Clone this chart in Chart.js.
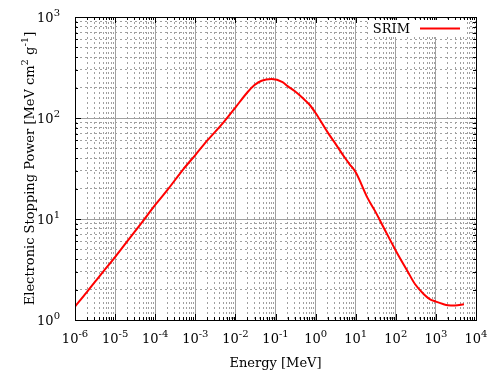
<!DOCTYPE html>
<html>
<head>
<meta charset="utf-8">
<script src="https://cdn.jsdelivr.net/npm/chart.js@4.4.1/dist/chart.umd.min.js"></script>
<style>
  html, body { margin: 0; padding: 0; background: #fff; }
  #wrap { width: 500px; height: 375px; }
</style>
</head>
<body>
<div id="wrap"><canvas id="chart-srim"></canvas></div>
<script>
// SRIM electronic stopping power
const energy = [1e-6, 2e-6, 5e-6, 1e-5, 2e-5, 5e-5, 1e-4, 2e-4, 5e-4, 1e-3, 2e-3, 5e-3,
                1e-2, 2e-2, 3e-2, 4.5e-2, 8e-2, 0.15, 0.2, 0.3, 0.5, 0.7, 1, 2, 3, 5, 7,
                10, 20, 30, 50, 100, 200, 300, 500, 700, 1000, 1500, 2000, 3000, 5000];
const stopping = [1.36, 1.9, 3.0, 4.2, 6.0, 9.6, 13.8, 19.3, 31, 43, 60, 90,
                  127, 180, 212, 234, 243, 227, 207, 185, 155, 136, 112, 72, 57, 42, 35,
                  29, 16, 12.1, 8.2, 4.86, 3.0, 2.27, 1.8, 1.61, 1.52, 1.44, 1.40, 1.39, 1.43];

const seriesLabel = 'SRIM';
const xDecades = [-6, -5, -4, -3, -2, -1, 0, 1, 2, 3, 4];
const yDecades = [0, 1, 2, 3];
const xTitle = 'Energy [MeV]';
// y title pieces: [text, isSuperscript]
const yTitle = [['Electronic Stopping Power [MeV cm', false], ['2', true], [' g', false], ['-1', true], [']', false]];

const FONT = '"DejaVu Serif", serif';
const GRID = '#a0a0a0';

function decadeTicks(exps) {
  let ticks = [];
  exps.forEach((e, i) => {
    ticks.push({ value: Math.pow(10, e), major: true, exp: e });
    if (i < exps.length - 1) {
      for (let m = 2; m <= 9; m++) ticks.push({ value: m * Math.pow(10, e), major: false });
    }
  });
  return ticks;
}

// draws pieces of text along a line, superscripts smaller and raised
function drawPieces(ctx, pieces, x, y) {
  let cx = x;
  pieces.forEach(([txt, sup]) => {
    ctx.font = (sup ? '10px ' : '13px ') + FONT;
    ctx.fillText(txt, cx, sup ? y - 6 : y);
    cx += ctx.measureText(txt).width;
  });
}

function piecesWidth(ctx, pieces) {
  let w = 0;
  pieces.forEach(([txt, sup]) => {
    ctx.font = (sup ? '10px ' : '13px ') + FONT;
    w += ctx.measureText(txt).width;
  });
  return w;
}

function powLabel(e) {
  return [['10', false], [String(e), true]];
}

const gnuplotFrame = {
  id: 'gnuplotFrame',
  afterDraw(chart) {
    const { ctx, chartArea: a, scales: { x, y } } = chart;
    ctx.save();
    ctx.fillStyle = '#000';
    ctx.textBaseline = 'alphabetic';
    ctx.textAlign = 'left';

    // tick marks on all four sides
    ctx.strokeStyle = '#000';
    ctx.lineWidth = 1;
    ctx.beginPath();
    x.ticks.forEach(t => {
      const px = Math.round(x.getPixelForValue(t.value)) + 0.5;
      const len = t.major ? 6 : 3;
      ctx.moveTo(px, a.bottom); ctx.lineTo(px, a.bottom - len);
      ctx.moveTo(px, a.top); ctx.lineTo(px, a.top + len);
    });
    y.ticks.forEach(t => {
      const py = Math.round(y.getPixelForValue(t.value)) + 0.5;
      const len = t.major ? 6 : 3;
      ctx.moveTo(a.left, py); ctx.lineTo(a.left + len, py);
      ctx.moveTo(a.right, py); ctx.lineTo(a.right - len, py);
    });
    ctx.stroke();

    // key
    ctx.fillStyle = '#fff';
    ctx.fillRect(370, a.top + 3, 97, 17);
    ctx.fillStyle = '#000';
    ctx.font = '13px ' + FONT;
    ctx.textAlign = 'right';
    ctx.fillText(seriesLabel, 410, a.top + 16);
    ctx.textAlign = 'left';
    ctx.strokeStyle = '#ff0000';
    ctx.lineWidth = 2;
    ctx.beginPath();
    ctx.moveTo(420, a.top + 11.5);
    ctx.lineTo(460, a.top + 11.5);
    ctx.stroke();

    // border
    ctx.strokeStyle = '#000';
    ctx.lineWidth = 1;
    ctx.strokeRect(Math.round(a.left) + 0.5, Math.round(a.top) + 0.5,
                   Math.round(a.right - a.left), Math.round(a.bottom - a.top));

    // x tick labels
    x.ticks.filter(t => t.major).forEach(t => {
      const p = powLabel(t.exp);
      const w = piecesWidth(ctx, p);
      drawPieces(ctx, p, x.getPixelForValue(t.value) - w / 2, a.bottom + 23);
    });
    // y tick labels
    y.ticks.filter(t => t.major).forEach(t => {
      const p = powLabel(t.exp);
      const w = piecesWidth(ctx, p);
      drawPieces(ctx, p, 60 - w, y.getPixelForValue(t.value) + 5);
    });

    // axis titles
    ctx.font = '13px ' + FONT;
    ctx.textAlign = 'center';
    ctx.fillText(xTitle, (a.left + a.right) / 2, 367);
    ctx.textAlign = 'left';
    ctx.save();
    ctx.translate(34, (a.top + a.bottom) / 2);
    ctx.rotate(-Math.PI / 2);
    drawPieces(ctx, yTitle, -piecesWidth(ctx, yTitle) / 2, 0);
    ctx.restore();

    ctx.restore();
  }
};

function logAxis(min, max, exps) {
  return {
    type: 'logarithmic',
    min: min,
    max: max,
    afterBuildTicks: s => { s.ticks = decadeTicks(exps); },
    afterFit: s => {
      if (s.isHorizontal()) s.height = 0; else s.width = 0;
    },
    ticks: { display: false },
    grid: {
      drawTicks: false,
      color: GRID,
      lineWidth: 1
    },
    border: {
      display: false,
      dash: c => (c.tick && c.tick.major) ? [] : [2, 3]
    }
  };
}

new Chart(document.getElementById('chart-srim'), {
  type: 'line',
  data: {
    datasets: [{
      label: seriesLabel,
      data: energy.map((e, i) => ({ x: e, y: stopping[i] })),
      borderColor: '#ff0000',
      borderWidth: 2,
      pointRadius: 0,
      cubicInterpolationMode: 'monotone',
      fill: false
    }]
  },
  options: {
    responsive: true,
    maintainAspectRatio: false,
    animation: false,
    layout: { padding: { left: 75, right: 24, top: 17, bottom: 55 } },
    plugins: {
      legend: { display: false },
      tooltip: { enabled: false }
    },
    scales: {
      x: logAxis(1e-6, 1e4, xDecades),
      y: logAxis(1, 1000, yDecades)
    }
  },
  plugins: [gnuplotFrame]
});
</script>
</body>
</html>
